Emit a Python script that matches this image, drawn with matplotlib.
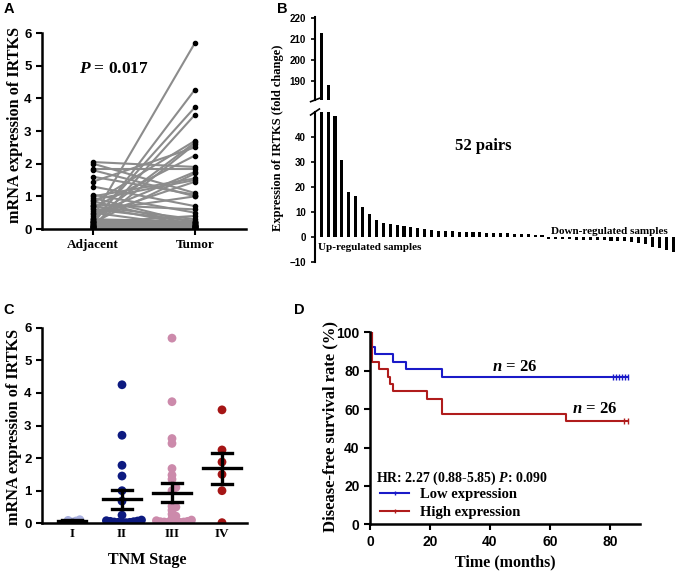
import matplotlib
matplotlib.use('Agg')
import matplotlib.pyplot as plt
from matplotlib.lines import Line2D
import numpy as np

SERIF = 'Liberation Serif'
SANS = 'Liberation Sans'

plt.rcParams['font.family'] = SANS
plt.rcParams['font.weight'] = 'bold'
plt.rcParams['mathtext.fontset'] = 'custom'
plt.rcParams['mathtext.it'] = 'Liberation Serif:italic:bold'
plt.rcParams['mathtext.rm'] = 'Liberation Serif:bold'

# ---- Panel A: paired mRNA expression (adjacent vs tumor) ----
adjacent = [0.35, 0.15, 0.25, 0.05, 0.80, 0.30, 0.10, 1.45, 0.65, 2.05,
            1.85, 0.45, 0.20, 1.00, 0.90, 0.40, 2.00, 1.60, 1.80, 0.55,
            1.30, 0.75, 1.05, 0.20, 0.70, 0.60, 0.30, 0.15, 0.95, 0.85,
            0.70, 0.50, 0.25, 0.22, 0.18, 0.12, 0.10, 0.08, 0.06, 0.05,
            0.04, 0.03, 0.28, 0.20, 0.15, 0.10, 0.08, 0.05, 0.03, 0.02,
            0.12, 0.06]
tumor = [5.70, 4.27, 3.73, 3.50, 2.70, 2.65, 2.60, 2.50, 2.25, 1.90,
         1.85, 1.75, 1.70, 1.55, 1.50, 1.45, 1.10, 1.05, 1.00, 1.00,
         0.70, 0.60, 0.50, 0.40, 0.30, 0.25, 0.22, 0.20, 0.18, 0.12,
         0.10, 0.08, 0.18, 0.15, 0.12, 0.10, 0.08, 0.06, 0.05, 0.04,
         0.03, 0.02, 0.05, 0.10, 0.20, 0.15, 0.12, 0.08, 0.06, 0.04,
         0.02, 0.01]
pair_labels = ['Adjacent', 'Tumor']

# ---- Panel B: fold change of each pair, sorted ----
fold_change = [213, 188, 48.5, 31, 18, 16.4, 12, 9.2, 7, 5.5,
               5.2, 4.8, 4.4, 3.9, 3.5, 3.1, 2.7, 2.5, 2.4, 2.3,
               2.2, 2.1, 2.0, 1.9, 1.8, 1.7, 1.6, 1.5, 1.4, 1.3,
               1.1, 0.9, 0.7,
               -0.6, -0.7, -0.8, -0.9, -1.0, -1.0, -1.1, -1.2, -1.3, -1.4,
               -1.5, -1.7, -1.9, -2.3, -2.9, -3.8, -4.5, -5.0, -5.8]

# ---- Panel C: expression by TNM stage ----
stages = ['I', 'II', 'III', 'IV']
stage_I = [0.04, 0.07, 0.09, 0.11]
stage_II = [4.25, 2.70, 1.78, 1.45, 1.00, 0.68, 0.25, 0.10, 0.08, 0.07,
            0.06, 0.05, 0.04, 0.03, 0.03, 0.02, 0.02]
stage_III = [5.68, 3.73, 2.60, 2.45, 1.68, 1.48, 1.35, 1.10, 1.00, 0.52,
             0.50, 0.40, 0.28, 0.22, 0.15, 0.10, 0.08, 0.06, 0.05, 0.04,
             0.04, 0.03, 0.03, 0.02, 0.02]
stage_IV = [3.48, 2.25, 1.88, 1.50, 1.00, 0.02]
stage_colors = ['#a9b0e0', '#0d1a80', '#cc8aab', '#a51515']

# ---- Panel D: Kaplan-Meier steps ----
low_time = [0, 0.8, 1.7, 7.8, 12, 24.1, 86]
low_surv = [100, 92.3, 88.5, 84.6, 80.8, 76.9, 76.9]
low_censor = [81, 82, 83, 84, 85, 86]
high_time = [0, 0.5, 3.1, 6.1, 6.7, 7.6, 19.1, 24.1, 65.2, 86]
high_surv = [100, 84.6, 80.8, 76.9, 73.1, 69.2, 65.4, 57.7, 53.8, 53.8]
high_censor = [84.5, 86]


W, H = 682, 572


def px_axes(left, top, right, bottom):
    """axes rectangle from pixel coordinates"""
    return [left / W, 1 - bottom / H, (right - left) / W, (bottom - top) / H]


def style_ax(ax, tick_size=9.5):
    for s in ['top', 'right']:
        ax.spines[s].set_visible(False)
    for s in ['left', 'bottom']:
        ax.spines[s].set_linewidth(1.8)
    ax.tick_params(width=1.5, length=4, direction='out', labelsize=tick_size)


def swarm_offsets(values, px_x, px_y, min_dist):
    """deterministic beeswarm offsets (data units)"""
    placed = []
    offsets = np.zeros(len(values))
    order = np.argsort(values)
    for i in order:
        y = values[i] * px_y
        x = 0.0
        found = False
        for k in range(0, 60):
            for sign in ([0] if k == 0 else [1, -1]):
                x = sign * k * min_dist * 0.5
                if all((x - a) ** 2 + (y - b) ** 2 >= min_dist ** 2 for a, b in placed):
                    found = True
                    break
            if found:
                break
        placed.append((x, y))
        offsets[i] = x / px_x
    return offsets


def serif_text(ax_or_fig, x, y, s, size, **kw):
    return ax_or_fig.text(x, y, s, fontfamily=SERIF, fontweight='bold', fontsize=size, **kw)


fig = plt.figure(figsize=(W / 100, H / 100), dpi=100)

# ---------------- Panel A ----------------
axA = fig.add_axes(px_axes(42, 33, 246, 229))
for a, t in zip(adjacent, tumor):
    axA.plot([0, 1], [a, t], color='#8c8c8c', lw=1.5, zorder=1)
axA.scatter(np.zeros(len(adjacent)), adjacent, s=9, color='black', zorder=3)
axA.scatter(np.ones(len(tumor)), tumor, s=9, color='black', zorder=3)
axA.set_xlim(-0.5, 1.5)
axA.set_ylim(0, 6)
axA.set_yticks(range(0, 7))
axA.set_xticks([0, 1])
axA.set_xticklabels(pair_labels, fontfamily=SERIF, fontweight='bold', fontsize=12.5)
style_ax(axA)
serif_text(axA, -0.14, 4.9, r'$P$ = 0.017', 12.5, va='center')
serif_text(fig, 15 / W, 1 - 125 / H, 'mRNA expression of IRTKS', 11.7,
           rotation=90, ha='center', va='center')

# ---------------- Panel B ----------------
idx = np.arange(1, len(fold_change) + 1)
axBt = fig.add_axes(px_axes(315, 17, 680, 100))
axBb = fig.add_axes(px_axes(315, 112, 680, 262))
for ax in (axBt, axBb):
    ax.bar(idx, fold_change, width=0.45, color='black')
    ax.set_xlim(0.1, 53)
    for s in ['top', 'right', 'bottom']:
        ax.spines[s].set_visible(False)
    ax.spines['left'].set_linewidth(1.5)
    ax.set_xticks([])
    ax.tick_params(axis='y', width=1.2, length=3, labelsize=7)
axBt.set_ylim(181, 220.5)
axBt.set_yticks([190, 200, 210, 220])
axBb.set_ylim(-10, 50)
axBb.set_yticks([-10, 0, 10, 20, 30, 40])
# break marks
for ax, yy in ((axBt, 0.0), (axBb, 1.0)):
    ax.plot([-0.012, 0.012], [yy - 0.02, yy + 0.02], transform=ax.transAxes,
            color='black', lw=1.2, clip_on=False)
serif_text(fig, 278 / W, 1 - 138 / H, 'Expression of IRTKS (fold change)', 9,
           rotation=90, ha='center', va='center')
serif_text(axBb, 24.5, 36.5, '52 pairs', 12, ha='center', va='center')
serif_text(axBb, 0.5, -4.2, 'Up-regulated samples', 8, ha='left', va='center')
serif_text(axBb, 34.3, 2.4, 'Down-regulated samples', 8, ha='left', va='center')

# ---------------- Panel C ----------------
axC = fig.add_axes(px_axes(42, 327.7, 247, 523.3))
groups = [stage_I, stage_II, stage_III, stage_IV]
px_x = 205 / 4.1
px_y = 195.6 / 6
for i, (vals, col) in enumerate(zip(groups, stage_colors)):
    vals = np.array(vals)
    off = swarm_offsets(vals, px_x, px_y, 3.9)
    axC.scatter(i + 1 + off, vals, s=40, color=col, edgecolors='none', zorder=2)
    m = vals.mean()
    sem = vals.std(ddof=1) / np.sqrt(len(vals))
    hw = 0.28 if i == 0 else 0.38
    axC.plot([i + 1 - hw, i + 1 + hw], [m, m], color='black', lw=2.4, zorder=3)
    axC.plot([i + 1, i + 1], [m - sem, m + sem], color='black', lw=2.4, zorder=3)
    for yv in (m - sem, m + sem):
        axC.plot([i + 0.8, i + 1.2], [yv, yv], color='black', lw=2.4, zorder=3)
axC.set_xlim(0.4, 4.5)
axC.set_ylim(0, 6)
axC.set_yticks(range(0, 7))
axC.set_xticks([1, 2, 3, 4])
axC.set_xticklabels(stages, fontfamily=SERIF, fontweight='bold', fontsize=11.5)
style_ax(axC)
axC.tick_params(axis='x', length=0)
serif_text(fig, 14 / W, 1 - 427 / H, 'mRNA expression of IRTKS', 11.7,
           rotation=90, ha='center', va='center')
serif_text(fig, 147 / W, 1 - 560 / H, 'TNM Stage', 11.5, ha='center', va='center')

# ---------------- Panel D ----------------
axD = fig.add_axes(px_axes(370, 332.3, 640, 524.3))
blue = '#1a1ac8'
red = '#b01c1c'
axD.plot(low_time, low_surv, drawstyle='steps-post', color=blue, lw=1.5)
axD.plot(high_time, high_surv, drawstyle='steps-post', color=red, lw=1.5)
axD.plot(low_censor, [low_surv[-1]] * len(low_censor), '|', color=blue, ms=4, mew=1)
axD.plot(high_censor, [high_surv[-1]] * len(high_censor), '|', color=red, ms=4, mew=1)
axD.set_xlim(0, 90)
axD.set_ylim(0, 100)
axD.set_xticks([0, 20, 40, 60, 80])
axD.set_yticks([0, 20, 40, 60, 80, 100])
style_ax(axD, tick_size=10)
serif_text(axD, 40.5, 82, r'$n$ = 26', 12, va='center')
serif_text(axD, 67.5, 60, r'$n$ = 26', 12, va='center')
serif_text(axD, 2, 24, r'HR: 2.27 (0.88-5.85) $P$: 0.090', 10, va='center')
handles = [Line2D([0], [0], color=blue, lw=1.5, marker='|', ms=3),
           Line2D([0], [0], color=red, lw=1.5, marker='|', ms=3)]
axD.legend(handles, ['Low expression', 'High expression'], frameon=False,
           loc='lower left', bbox_to_anchor=(0.0, -0.025), handlelength=2.0,
           handletextpad=0.7, borderaxespad=0.3, labelspacing=0.3,
           prop={'family': SERIF, 'weight': 'bold', 'size': 10.5})
serif_text(fig, 330 / W, 1 - 427 / H, 'Disease-free survival rate (%)', 12,
           rotation=90, ha='center', va='center')
serif_text(fig, 505 / W, 1 - 562 / H, 'Time (months)', 11.5, ha='center', va='center')

# panel letters
for lab, x, y in (('A', 9, 9), ('B', 282, 9), ('C', 9, 310), ('D', 299, 310)):
    fig.text(x / W, 1 - y / H, lab, fontfamily=SANS, fontweight='bold', fontsize=10.5,
             ha='center', va='center')

fig.savefig('out.png', dpi=100, facecolor='white')
